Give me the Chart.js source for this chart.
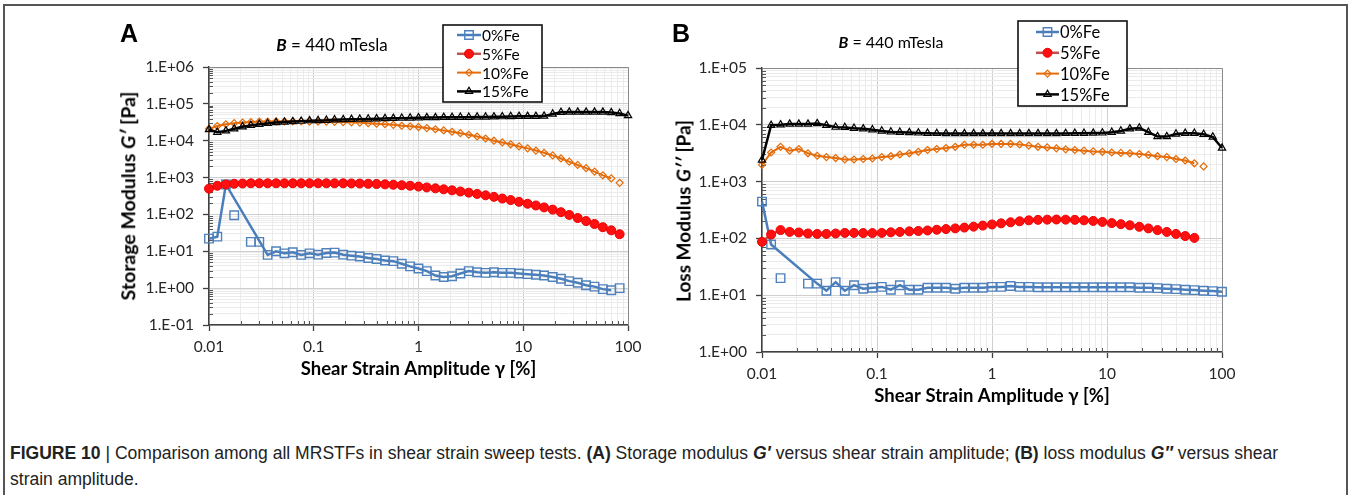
<!DOCTYPE html>
<html>
<head>
<meta charset="utf-8">
<script src="https://cdn.jsdelivr.net/npm/chart.js@4.4.1/dist/chart.umd.min.js"></script>
<style>
  html, body { margin: 0; padding: 0; background: #fff; }
  body { width: 1352px; height: 495px; position: relative; overflow: hidden; font-family: Lato, sans-serif; color: #000; }
  #frame { position: absolute; left: 3px; top: 4px; width: 1345px; height: 600px; border: 2px solid #555; box-sizing: border-box; }
  canvas { position: absolute; top: 0; }
  #chartA { left: 0; }
  #chartB { left: 660px; }
  .plabel { position: absolute; font: bold 25px "Liberation Sans", Arial, sans-serif; line-height: 1; transform: translate(-50%, -50%); }
  .ptitle { position: absolute; font-family: Lato, sans-serif; line-height: 1; white-space: nowrap; transform: translate(-50%, -50%); }
  .ytitle { position: absolute; font-family: Lato, sans-serif; font-weight: bold; line-height: 1; white-space: nowrap; transform: translate(-50%, -50%) rotate(-90deg); }
  #caption { position: absolute; left: 10px; top: 440px; font-family: "Liberation Sans Narrow", "Liberation Sans", Arial, sans-serif; font-size: 17.5px; color: #222; }
  #caption div { white-space: nowrap; line-height: 26px; transform-origin: 0 50%; display: inline-block; }
</style>
</head>
<body>
<div id="frame"></div>
<canvas id="chartA" width="660" height="430"></canvas>
<canvas id="chartB" width="676" height="430"></canvas>

<div class="plabel" style="left:129px; top:33px;">A</div>
<div class="plabel" style="left:681px; top:33px;">B</div>
<div class="ptitle" style="left:332px; top:44px; font-size:17px;"><b><i>B</i></b> = 440 mTesla</div>
<div class="ptitle" style="left:891px; top:42px; font-size:16px;"><b><i>B</i></b> = 440 mTesla</div>
<div class="ytitle" style="left:128px; top:196px; font-size:19.5px;">Storage Modulus <i>G′</i> [Pa]</div>
<div class="ytitle" style="left:683px; top:211px; font-size:19px;">Loss Modulus <i>G′′</i> [Pa]</div>

<div id="caption">
  <div id="cap1"><b>FIGURE 10</b> | Comparison among all MRSTFs in shear strain sweep tests. <b>(A)</b> Storage modulus <b><i>G′</i></b> versus shear strain amplitude; <b>(B)</b> loss modulus <b><i>G″</i></b> versus shear</div><br>
  <div id="cap2">strain amplitude.</div>
</div>

<script>
// strain sweep points (%), shared by both panels
const strain = [0.01, 0.012, 0.0145, 0.0174, 0.0209, 0.0251, 0.0302, 0.0363, 0.0437, 0.0525,
  0.0631, 0.0759, 0.0912, 0.110, 0.132, 0.158, 0.191, 0.229, 0.275, 0.331,
  0.398, 0.479, 0.575, 0.692, 0.832, 1.00, 1.20, 1.45, 1.74, 2.09,
  2.51, 3.02, 3.63, 4.37, 5.25, 6.31, 7.59, 9.12, 11.0, 13.2,
  15.8, 19.1, 22.9, 27.5, 33.1, 39.8, 47.9, 57.5, 69.2, 83.2, 100];

const seriesNames = ['0%Fe', '5%Fe', '10%Fe', '15%Fe'];

// --- (A) storage modulus G' [Pa] ---
const storage0 = [22, 25, 650, null, null, null, null, 8, 10, 8.8,
  9.4, 8, 8.8, 8.1, 9, 9.2, 8.1, 7.6, 7.2, 6.6,
  6.2, 5.6, 5.4, 4.6, 3.9, 3.4, 2.9, 2.2, 2.0, 2.1,
  2.5, 2.9, 2.7, 2.6, 2.7, 2.6, 2.6, 2.5, 2.4, 2.3,
  2.2, 2.0, 1.8, 1.55, 1.4, 1.2, 1.1, 0.94, 0.88];
const storage0Loose = [[0.0174, 95], [0.0251, 18], [0.0302, 18], [83.2, 1.0]];
const storage5 = [500, 600, 650, 680, 690, 700, 700, 700, 700, 700,
  700, 700, 700, 700, 700, 700, 700, 695, 690, 680,
  670, 655, 640, 620, 600, 570, 540, 510, 480, 450,
  420, 390, 360, 330, 300, 270, 245, 220, 195, 175,
  155, 135, 115, 97, 80, 66, 55, 45, 37, 29];
const storage10 = [21000, 25000, 28000, 30000, 31000, 32000, 33000, 33000, 33500, 33500,
  33500, 33500, 33000, 33000, 33000, 32500, 32000, 31500, 31000, 30000,
  29000, 28000, 27000, 25500, 24500, 23500, 22000, 20500, 19000, 17500,
  16000, 14500, 13000, 11500, 10000, 9000, 8000, 7000, 6200, 5400,
  4700, 4000, 3300, 2700, 2200, 1800, 1450, 1150, 950];
const storage10Loose = [[83.2, 720]];
const storage15 = [20000, 17000, 18500, 21000, 24000, 26000, 28000, 29500, 31000, 32000,
  33000, 34000, 35000, 35500, 36000, 37000, 37500, 38000, 38500, 39000,
  39500, 40000, 40500, 41000, 41500, 42000, 42500, 42500, 43000, 43000,
  43500, 43500, 44000, 44000, 44500, 45000, 45500, 46000, 46000, 46000,
  46500, 53000, 59000, 60000, 60000, 60000, 60000, 60000, 58000, 55000, 48000];

// --- (B) loss modulus G'' [Pa] ---
const loss0 = [445, 78, null, null, null, null, 16, 12, 17, 12,
  15, 13, 13.5, 14, 12.5, 15, 12.5, 12.5, 13.5, 13.5,
  13.5, 13, 13.5, 13.5, 13.5, 14, 14, 14.5, 14, 14,
  13.8, 13.8, 13.8, 13.8, 13.8, 13.8, 13.8, 13.8, 13.8, 13.8,
  13.8, 13.5, 13.5, 13.3, 13, 12.8, 12.5, 12.3, 12, 11.8, 11.5];
const loss0Loose = [[0.0145, 20], [0.0251, 16]];
const loss5 = [87, 117, 140, 130, 127, 122, 120, 120, 122, 125,
  125, 124, 124, 125, 128, 130, 133, 135, 138, 142,
  146, 150, 155, 161, 168, 176, 184, 192, 200, 208,
  212, 214, 215, 214, 212, 208, 203, 195, 186, 178,
  170, 160, 150, 140, 130, 120, 110, 102];
const loss10 = [1970, 3250, 4100, 3500, 3750, 3150, 2850, 2700, 2600, 2450,
  2450, 2500, 2550, 2700, 2800, 3000, 3150, 3350, 3600, 3750,
  3900, 4100, 4450, 4450, 4450, 4600, 4600, 4600, 4500, 4300,
  4100, 4000, 3850, 3700, 3600, 3500, 3400, 3350, 3250, 3200,
  3150, 3050, 2950, 2800, 2700, 2500, 2350, 2100];
const loss10Loose = [[69.2, 1850]];
const loss15 = [2400, 9800, 10000, 10300, 10300, 10300, 10500, 9800, 9100, 9000,
  8700, 8500, 8200, 7800, 7500, 7400, 7300, 7200, 7100, 7050,
  7000, 7000, 7000, 7000, 7000, 7000, 7000, 7000, 7000, 7000,
  7000, 7000, 7000, 7050, 7100, 7100, 7150, 7200, 7400, 7800,
  8500, 8800, 7400, 6200, 6200, 6900, 7100, 7100, 6800, 6100, 3900];

// tick labels
const xTickLabels = ['0.01', '0.1', '1', '10', '100'];
const yTickLabelsA = ['1.E-01', '1.E+00', '1.E+01', '1.E+02', '1.E+03', '1.E+04', '1.E+05', '1.E+06'];
const yTickLabelsB = ['1.E+00', '1.E+01', '1.E+02', '1.E+03', '1.E+04', '1.E+05'];

// series look (Excel style)
const styles = [
  { line: '#4a7ebb', width: 2.5, point: 'rect', radius: 6, fill: 'rgba(0,0,0,0)', stroke: '#4f81bd', pw: 1.4, order: 3 },
  { line: '#c0504d', width: 2.5, point: 'circle', radius: 4.5, fill: '#ff1010', stroke: '#ee0000', pw: 1, order: 2 },
  { line: '#e46c0a', width: 2, point: 'rectRot', radius: 3.5, fill: 'rgba(0,0,0,0)', stroke: '#e46c0a', pw: 1.2, order: 1 },
  { line: '#000000', width: 2.5, point: 'triangle', radius: 4.2, fill: 'rgba(0,0,0,0)', stroke: '#000000', pw: 1.2, order: 0 }
];

// --- UTILS ---
function isDecade(v) {
  const l = Math.log10(v);
  return Math.abs(l - Math.round(l)) < 1e-9;
}

function logTicks(minExp, maxExp) {
  const out = [];
  for (let d = minExp; d < maxExp; d++) {
    for (let m = 1; m <= 9; m++) out.push(Number((m * Math.pow(10, d)).toPrecision(6)));
  }
  out.push(Math.pow(10, maxExp));
  return out;
}

function toPoints(ys) {
  return ys.map((y, i) => ({ x: strain[i], y })).filter(p => p.y !== null);
}

function lineSet(name, ys, st) {
  return {
    label: name, data: toPoints(ys), order: st.order,
    borderColor: st.line, borderWidth: st.width,
    pointStyle: st.point, pointRadius: st.radius,
    pointBackgroundColor: st.fill, pointBorderColor: st.stroke, pointBorderWidth: st.pw,
    tension: 0, clip: false
  };
}

function looseSet(pairs, st) {
  return {
    label: '', extra: true, showLine: false, order: st.order,
    data: pairs.map(p => ({ x: p[0], y: p[1] })),
    borderColor: st.line, pointStyle: st.point, pointRadius: st.radius,
    pointBackgroundColor: st.fill, pointBorderColor: st.stroke, pointBorderWidth: st.pw,
    clip: false
  };
}

function logAxis(minExp, maxExp, labels, o) {
  return {
    type: 'logarithmic',
    position: o.position,
    min: Math.pow(10, minExp),
    max: Math.pow(10, maxExp),
    afterBuildTicks: s => { s.ticks = logTicks(minExp, maxExp).map(v => ({ value: v })); },
    afterFit: s => {
      if (o.width) s.width = o.width;
      if (o.height) s.height = o.height;
    },
    ticks: {
      autoSkip: false, maxRotation: 0, minRotation: 0, padding: o.tickPad,
      color: '#262626', font: { family: 'Lato', size: o.fontSize },
      callback: v => isDecade(v) ? labels[Math.round(Math.log10(v)) - minExp] : ''
    },
    grid: {
      color: c => (c.tick && isDecade(c.tick.value)) ? '#cfcfcf' : '#ebebeb',
      lineWidth: 1,
      tickLength: 6,
      tickWidth: 1.3,
      tickColor: c => (c.tick && isDecade(c.tick.value)) ? '#404040' : 'rgba(0,0,0,0)'
    },
    border: { color: '#404040', width: 1.5 },
    title: o.title
      ? { display: true, text: o.title, color: '#000', padding: 0, font: { family: 'Lato', size: o.titleSize, weight: 'bold' } }
      : { display: false }
  };
}

// legend box inside the plot, drawn from the datasets
const boxLegend = {
  id: 'boxLegend',
  afterDatasetsDraw(chart, args, o) {
    const ctx = chart.ctx;
    ctx.save();
    ctx.fillStyle = '#fff';
    ctx.fillRect(o.x, o.y, o.w, o.h);
    ctx.strokeStyle = '#111';
    ctx.lineWidth = 1.6;
    ctx.strokeRect(o.x, o.y, o.w, o.h);
    ctx.font = o.font;
    ctx.textBaseline = 'middle';
    let row = 0;
    chart.data.datasets.forEach(ds => {
      if (ds.extra) return;
      const cy = o.y + o.first + row * o.step;
      const x0 = o.x + o.lineX, x1 = x0 + o.lineW;
      ctx.strokeStyle = ds.borderColor;
      ctx.lineWidth = ds.borderWidth;
      ctx.beginPath(); ctx.moveTo(x0, cy); ctx.lineTo(x1, cy); ctx.stroke();
      ctx.fillStyle = ds.pointBackgroundColor;
      ctx.strokeStyle = ds.pointBorderColor;
      ctx.lineWidth = ds.pointBorderWidth;
      Chart.helpers.drawPoint(ctx, { pointStyle: ds.pointStyle, radius: ds.pointRadius, borderWidth: ds.pointBorderWidth, rotation: 0 }, (x0 + x1) / 2, cy);
      ctx.fillStyle = '#000';
      ctx.fillText(ds.label, x1 + 1, cy + 1);
      row++;
    });
    ctx.restore();
  }
};

// minor ticks inside the axes + top/right frame
const axisDeco = {
  id: 'axisDeco',
  beforeDatasetsDraw(chart) {
    const { ctx, chartArea: a, scales: { x, y } } = chart;
    ctx.save();
    ctx.strokeStyle = '#555';
    ctx.lineWidth = 1;
    x.ticks.forEach(t => {
      if (isDecade(t.value)) return;
      const px = Math.round(x.getPixelForValue(t.value)) + 0.5;
      ctx.beginPath(); ctx.moveTo(px, a.bottom); ctx.lineTo(px, a.bottom - 4); ctx.stroke();
    });
    y.ticks.forEach(t => {
      if (isDecade(t.value)) return;
      const py = Math.round(y.getPixelForValue(t.value)) + 0.5;
      ctx.beginPath(); ctx.moveTo(a.left, py); ctx.lineTo(a.left + 4, py); ctx.stroke();
    });
    ctx.strokeStyle = '#8a8a8a';
    ctx.beginPath();
    ctx.moveTo(a.left, a.top + 0.5); ctx.lineTo(a.right + 0.5, a.top + 0.5); ctx.lineTo(a.right + 0.5, a.bottom);
    ctx.stroke();
    ctx.restore();
  }
};

function makeChart(id, datasets, cfg) {
  return new Chart(document.getElementById(id), {
    type: 'line',
    data: { datasets },
    options: {
      responsive: false, animation: false, events: [],
      layout: { padding: cfg.pad },
      plugins: { legend: { display: false }, tooltip: { enabled: false }, boxLegend: cfg.legend },
      scales: { x: cfg.x, y: cfg.y }
    },
    plugins: [boxLegend, axisDeco]
  });
}

makeChart('chartA', [
  lineSet(seriesNames[0], storage0, styles[0]),
  lineSet(seriesNames[1], storage5, styles[1]),
  lineSet(seriesNames[2], storage10, styles[2]),
  lineSet(seriesNames[3], storage15, styles[3]),
  looseSet(storage0Loose, styles[0]),
  looseSet(storage10Loose, styles[2])
], {
  pad: { left: 100, top: 67, right: 32, bottom: 49.9 },
  legend: { x: 443, y: 25, w: 99, h: 77, first: 10, step: 18.8, lineX: 14, lineW: 24, font: '15.5px Lato' },
  x: logAxis(-2, 2, xTickLabels, { position: 'bottom', height: 55.1, tickPad: 7, fontSize: 15.5, title: 'Shear Strain Amplitude γ [%]', titleSize: 18.5 }),
  y: logAxis(-1, 6, yTickLabelsA, { position: 'left', width: 109, tickPad: 9, fontSize: 15.5 })
});

makeChart('chartB', [
  lineSet(seriesNames[0], loss0, styles[0]),
  lineSet(seriesNames[1], loss5, styles[1]),
  lineSet(seriesNames[2], loss10, styles[2]),
  lineSet(seriesNames[3], loss15, styles[3]),
  looseSet(loss0Loose, styles[0]),
  looseSet(loss10Loose, styles[2])
], {
  pad: { left: 20, top: 68, right: 114, bottom: 22.9 },
  legend: { x: 358, y: 21, w: 109, h: 85, first: 11, step: 20.8, lineX: 18, lineW: 23, font: '16.5px Lato' },
  x: logAxis(-2, 2, xTickLabels, { position: 'bottom', height: 55.1, tickPad: 7, fontSize: 15.5, title: 'Shear Strain Amplitude γ [%]', titleSize: 18.5 }),
  y: logAxis(0, 5, yTickLabelsB, { position: 'left', width: 82, tickPad: 9, fontSize: 15.5 })
});

// fit caption lines to the figure width
const cap1 = document.getElementById('cap1');
const cap2 = document.getElementById('cap2');
const k = 1268 / cap1.getBoundingClientRect().width;
cap1.style.transform = 'scaleX(' + k + ')';
cap2.style.transform = 'scaleX(' + k + ')';
</script>
</body>
</html>
